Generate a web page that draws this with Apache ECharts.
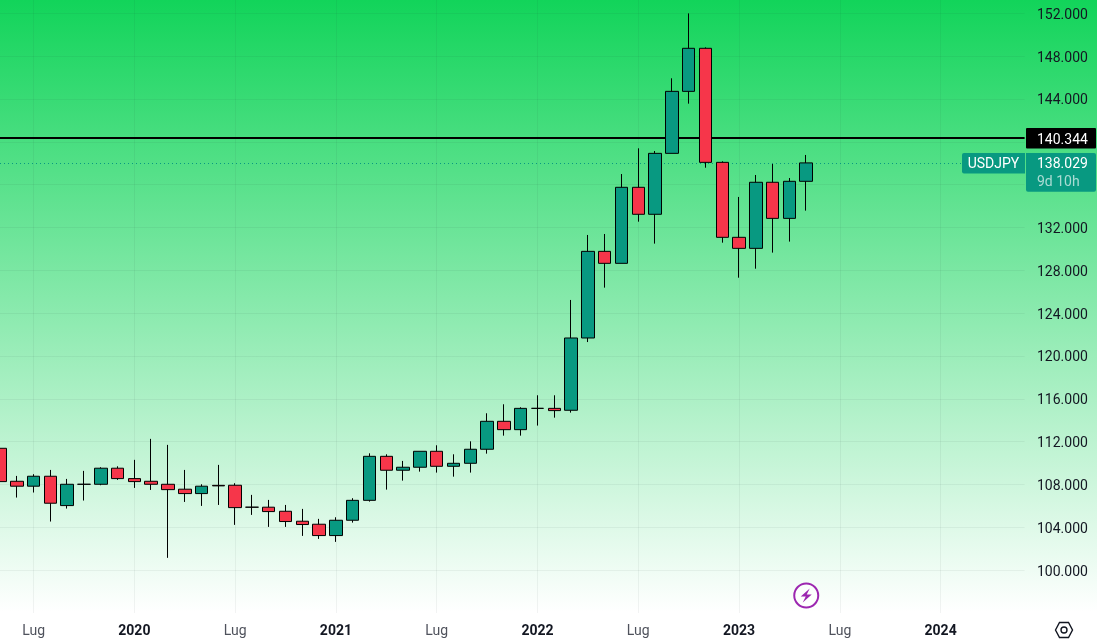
<!DOCTYPE html>
<html>
<head>
<meta charset="utf-8">
<title>USDJPY</title>
<style>
  html, body { margin: 0; padding: 0; background: #fff; }
  #chart { width: 1097px; height: 642px; }
</style>
<script src="https://cdn.jsdelivr.net/npm/echarts@6/dist/echarts.min.js"></script>
</head>
<body>
<div id="chart"></div>
<script>
// Monthly USD/JPY candles, May 2019 to May 2023, with empty months up to mid 2024.
const months = [
  '2019-05','2019-06','2019-07','2019-08','2019-09','2019-10','2019-11','2019-12',
  '2020-01','2020-02','2020-03','2020-04','2020-05','2020-06','2020-07','2020-08','2020-09','2020-10','2020-11','2020-12',
  '2021-01','2021-02','2021-03','2021-04','2021-05','2021-06','2021-07','2021-08','2021-09','2021-10','2021-11','2021-12',
  '2022-01','2022-02','2022-03','2022-04','2022-05','2022-06','2022-07','2022-08','2022-09','2022-10','2022-11','2022-12',
  '2023-01','2023-02','2023-03','2023-04','2023-05','2023-06','2023-07','2023-08','2023-09','2023-10','2023-11','2023-12',
  '2024-01','2024-02','2024-03','2024-04','2024-05','2024-06'
];
const opens = [
  111.38,108.30,107.84,108.77,106.03,108.02,108.02,109.52,
  108.55,108.30,108.02,107.56,107.15,107.92,107.93,105.88,105.88,105.50,104.57,104.29,
  103.23,104.66,106.52,110.63,109.33,109.61,111.10,109.70,109.98,111.29,113.90,113.12,
  115.11,115.11,114.93,121.68,129.77,128.65,135.75,133.23,138.92,144.71,148.73,138.08,
  131.08,130.05,136.22,132.85,136.31
];
const closes = [
  108.27,107.84,108.77,106.25,108.02,108.02,109.52,108.55,
  108.27,108.02,107.52,107.15,107.84,107.87,105.84,105.88,105.47,104.54,104.26,103.23,
  104.66,106.52,110.63,109.33,109.61,111.10,109.70,109.98,111.29,113.90,113.12,115.11,
  115.11,114.90,121.68,129.77,128.65,135.75,133.23,138.92,144.71,148.73,138.08,131.08,
  130.05,136.22,132.85,136.31,138.029
];
const lows = [
  108.27,106.78,107.25,104.54,105.75,106.50,107.93,108.43,
  107.68,107.49,101.15,106.37,106.00,106.09,104.23,105.16,104.04,104.04,103.20,102.92,
  102.64,104.44,106.40,107.52,108.36,109.20,109.11,108.73,109.11,110.88,112.56,112.56,
  113.50,114.24,114.71,121.30,126.38,128.65,132.54,130.49,138.92,143.56,137.58,130.58,
  127.31,128.15,129.65,130.68,133.57
];
const highs = [
  111.70,108.80,108.96,109.36,108.52,109.27,109.61,109.70,
  110.30,112.26,111.70,109.36,108.02,109.83,108.12,107.03,106.56,106.09,105.72,104.79,
  104.94,106.72,110.91,110.82,110.20,111.10,111.66,110.82,112.03,114.65,115.49,115.21,
  116.33,116.33,125.23,131.30,131.39,136.99,139.39,139.14,145.93,151.99,148.82,138.18,
  134.85,136.90,137.93,136.62,138.77
];
const ohlc = opens.map((o, i) => [o, closes[i], lows[i], highs[i]]);

const yTickStep = 4;
const yMin = 96;
const yMax = 153.24;
const horizontalLevel = 140.344;
const lastPrice = 138.029;
const symbolName = 'USDJPY';
const countdown = '9d 10h';
const midYearLabel = 'Lug';

const UP = '#089981';
const DOWN = '#f6364a';
const INK = '#131722';
const FONT = 'Roboto, sans-serif';

// Only Januaries and Julys carry a label and a vertical grid line.
const isLabelled = (value) => /-(01|07)$/.test(value);

const chart = echarts.init(document.getElementById('chart'));
chart.setOption({
  animation: false,
  backgroundColor: new echarts.graphic.LinearGradient(0, 0, 0, 1, [
    { offset: 0, color: '#12d45a' },
    { offset: 612 / 642, color: '#ffffff' },
    { offset: 1, color: '#ffffff' }
  ]),
  grid: { left: -0.2, top: 0, width: 1024.8, height: 613 },
  xAxis: {
    type: 'category',
    data: months,
    boundaryGap: false,
    axisLine: { show: false },
    axisTick: { show: false },
    splitLine: {
      show: true,
      interval: (i, value) => isLabelled(value),
      lineStyle: { color: 'rgba(42,46,57,0.06)', width: 1 }
    },
    axisLabel: {
      interval: (i, value) => isLabelled(value),
      margin: 11,
      hideOverlap: false,
      formatter: (value) => value.endsWith('-07')
        ? '{mid|' + midYearLabel + '}'
        : '{year|' + value.slice(0, 4) + '}',
      rich: {
        mid: { fontFamily: FONT, fontSize: 14, color: '#4f525c' },
        year: { fontFamily: FONT, fontSize: 14, fontWeight: 'bold', color: INK }
      }
    }
  },
  yAxis: {
    type: 'value',
    position: 'right',
    min: yMin,
    max: yMax,
    interval: yTickStep,
    axisLine: { show: false },
    axisTick: { show: false },
    splitLine: {
      show: true,
      showMinLine: false,
      showMaxLine: false,
      lineStyle: { color: 'rgba(42,46,57,0.06)', width: 1 }
    },
    axisLabel: {
      inside: false,
      margin: 12.4,
      showMinLabel: false,
      showMaxLabel: false,
      formatter: (v) => '{price|' + v.toFixed(3) + '}',
      rich: {
        price: { fontFamily: FONT, fontSize: 14, color: INK, padding: [4, 0, 0, 0] }
      }
    }
  },
  series: [{
    type: 'candlestick',
    data: ohlc,
    barWidth: 13,
    itemStyle: {
      color: UP,
      color0: DOWN,
      borderColor: '#000000',
      borderColor0: '#000000',
      borderColorDoji: '#000000',
      borderWidth: 1
    },
    markLine: {
      silent: true,
      z: 1,
      symbol: 'none',
      label: { show: false },
      data: [
        { yAxis: horizontalLevel, lineStyle: { color: '#000000', type: 'solid', width: 2 } },
        { yAxis: lastPrice, lineStyle: { color: UP, type: [1, 3], width: 1 } }
      ]
    }
  }]
});

// Price tags on the scale and the two small icons, placed through the axis scales.
const levelY = chart.convertToPixel({ yAxisIndex: 0 }, horizontalLevel);
const lastY = chart.convertToPixel({ yAxisIndex: 0 }, lastPrice);
const lastX = chart.convertToPixel({ xAxisIndex: 0 }, months[opens.length - 1]);
const tagText = (x, y, text, fill, align) => ({
  type: 'text', x, y, z: 20,
  style: { text, fill, font: '14px ' + FONT, align: align || 'left', verticalAlign: 'middle' }
});
chart.setOption({
  graphic: [
    { type: 'rect', z: 19, shape: { x: 1026, y: levelY - 10, width: 70, height: 20.5, r: 1 }, style: { fill: '#000000' } },
    tagText(1037, levelY + 2, horizontalLevel.toFixed(3), '#ffffff'),
    { type: 'rect', z: 19, shape: { x: 962, y: lastY - 10, width: 63, height: 20.5, r: [2, 0, 0, 2] }, style: { fill: UP } },
    tagText(993.5, lastY + 2, symbolName, '#ffffff', 'center'),
    { type: 'rect', z: 19, shape: { x: 1026, y: lastY - 10, width: 70, height: 38.8, r: [0, 2, 2, 2] }, style: { fill: UP } },
    tagText(1037, lastY + 2, lastPrice.toFixed(3), '#ffffff'),
    tagText(1037, lastY + 20, countdown, 'rgba(255,255,255,0.65)'),
    {
      type: 'group', x: lastX, y: 595.5, z: 20,
      children: [
        { type: 'circle', shape: { cx: 0, cy: 0, r: 12 }, style: { fill: 'rgba(255,255,255,0.6)', stroke: '#9c27b0', lineWidth: 2 } },
        { type: 'polygon', shape: { points: [[3.5, -7], [-5.5, 1], [-0.5, 1], [-3.5, 7], [5.5, -1], [0.5, -1]] }, style: { fill: '#9c27b0' } }
      ]
    },
    {
      type: 'group', x: 1064, y: 630, z: 20,
      children: [
        { type: 'polygon', shape: { points: [[-8.5, 0], [-4.5, -7.5], [4.5, -7.5], [8.5, 0], [4.5, 7.5], [-4.5, 7.5]] }, style: { fill: 'none', stroke: INK, lineWidth: 1.4 } },
        { type: 'circle', shape: { cx: 0, cy: 0, r: 3 }, style: { fill: 'none', stroke: INK, lineWidth: 1.4 } }
      ]
    }
  ]
});
</script>
</body>
</html>
